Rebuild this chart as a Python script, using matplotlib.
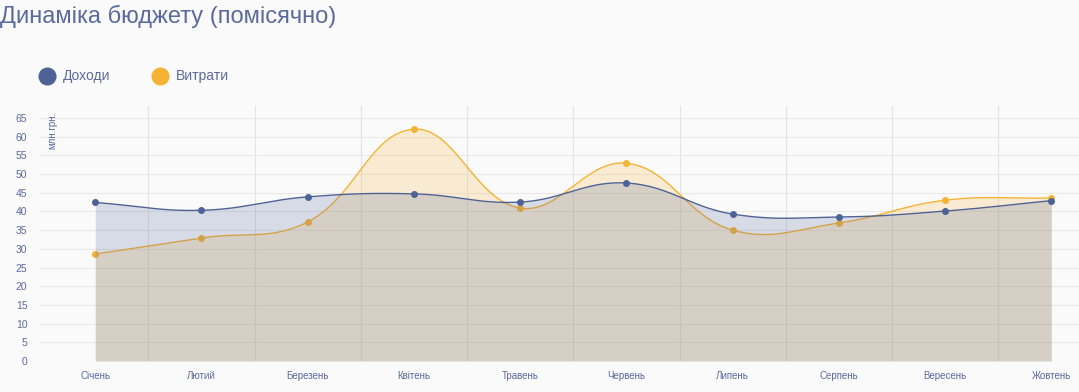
import numpy as np
import matplotlib
matplotlib.use("Agg")
import matplotlib.pyplot as plt
from matplotlib.lines import Line2D

plt.rcParams['font.family'] = ['Liberation Sans', 'DejaVu Sans']

# Data
months = ["Січень", "Лютий", "Березень", "Квітень", "Травень",
          "Червень", "Липень", "Серпень", "Вересень", "Жовтень"]
income = [42.4, 40.3, 43.9, 44.7, 42.5, 47.6, 39.3, 38.5, 40.1, 42.9]
expenses = [28.6, 32.9, 37.2, 62.0, 40.9, 52.9, 35.0, 36.9, 43.0, 43.6]
series_names = ["Доходи", "Витрати"]

blue = "#4e6296"
orange = "#f5b335"
text_col = "#5a6a9c"
bg = "#fafafa"

# pixel scale used for smoothing (Chart.js-like bezier, tension 0.4)
sx, sy = 106.3, 3.74


def smooth(xs, ys, tension=0.4, n=40):
    px = np.array(xs, float) * sx
    py = np.array(ys, float) * sy
    m = len(px)
    out_x, out_y = [], []
    cps = []
    for i in range(m):
        p0 = (px[max(i - 1, 0)], py[max(i - 1, 0)])
        p1 = (px[i], py[i])
        p2 = (px[min(i + 1, m - 1)], py[min(i + 1, m - 1)])
        d01 = np.hypot(p1[0] - p0[0], p1[1] - p0[1])
        d12 = np.hypot(p2[0] - p1[0], p2[1] - p1[1])
        tot = d01 + d12
        s01 = d01 / tot if tot else 0
        s12 = d12 / tot if tot else 0
        fa, fb = tension * s01, tension * s12
        prev_cp = (p1[0] - fa * (p2[0] - p0[0]), p1[1] - fa * (p2[1] - p0[1]))
        next_cp = (p1[0] + fb * (p2[0] - p0[0]), p1[1] + fb * (p2[1] - p0[1]))
        cps.append((prev_cp, next_cp))
    t = np.linspace(0, 1, n)
    for i in range(m - 1):
        a = np.array([px[i], py[i]])
        b = np.array(cps[i][1])
        c = np.array(cps[i + 1][0])
        d = np.array([px[i + 1], py[i + 1]])
        pts = ((1 - t)[:, None] ** 3 * a + 3 * ((1 - t) ** 2 * t)[:, None] * b
               + 3 * ((1 - t) * t ** 2)[:, None] * c + (t ** 3)[:, None] * d)
        out_x.extend(pts[:, 0])
        out_y.extend(pts[:, 1])
    return np.array(out_x) / sx, np.array(out_y) / sy


W, H = 1079, 392
fig = plt.figure(figsize=(W / 100, H / 100), dpi=100, facecolor=bg)
ax = fig.add_axes([40 / W, 31 / H, 1 - 40 / W, (361 - 106) / H])
ax.set_facecolor(bg)

x = np.arange(len(months))
ex, ey = smooth(x, expenses)
ix, iy = smooth(x, income)

ax.fill_between(ex, 0, ey, color=orange, alpha=0.2, lw=0, zorder=2)
ax.plot(ex, ey, color=orange, lw=1, zorder=3)
ax.plot(x, expenses, 'o', color=orange, ms=4, zorder=4)

ax.fill_between(ix, 0, iy, color=blue, alpha=0.2, lw=0, zorder=5)
ax.plot(ix, iy, color=blue, lw=1, zorder=6)
ax.plot(x, income, 'o', color=blue, ms=4, zorder=7)

ax.set_xlim(-0.52, 9.26)
ax.set_ylim(0, 68.2)
ax.set_yticks(range(0, 70, 5))
ax.set_xticks(x)
ax.set_xticklabels(months)
ax.set_xticks(x[:-1] + 0.5, minor=True)
ax.grid(axis='y', which='major', color="#e8e8e8", lw=0.8, zorder=0)
ax.grid(axis='x', which='minor', color="#e3e3e3", lw=0.8, zorder=0)
ax.tick_params(axis='both', which='both', length=0)
ax.tick_params(axis='x', labelsize=7, labelcolor=text_col, pad=7)
ax.tick_params(axis='y', labelsize=7.5, labelcolor=text_col, pad=9)
for s in ax.spines.values():
    s.set_visible(False)

fig.text(52 / W, 1 - 112 / H, "млн.грн.", rotation=90,
         ha='center', va='top', fontsize=7, color=text_col)

fig.text(0, 1 - 16 / H, "Динаміка бюджету (помісячно)", fontsize=17,
         color=text_col, va='center', ha='left')

# legend drawn by hand to match the placement
for cx, tx, col, name in [(47, 63, blue, series_names[0]),
                          (160, 176, orange, series_names[1])]:
    fig.add_artist(Line2D([cx / W], [1 - 76 / H], marker='o', ls='',
                          color=col, ms=12, transform=fig.transFigure))
    fig.text(tx / W, 1 - 76 / H, name, fontsize=10, color=text_col,
             va='center', ha='left')

fig.savefig("out.png", dpi=100, facecolor=bg)
